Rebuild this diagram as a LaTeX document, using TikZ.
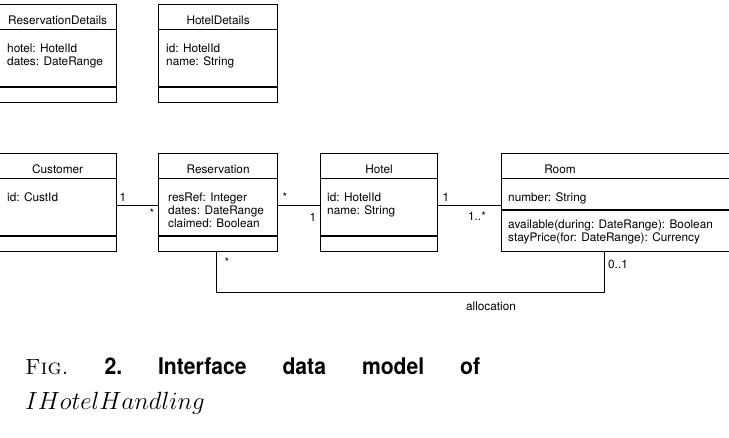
\documentclass[tikz,border=0pt]{standalone}
\usepackage{amsmath}
\usepackage{fontspec}
\newfontfamily\umlfont{TeX Gyre Heros}
\usepackage{tikz}

\begin{document}
\begin{tikzpicture}[x=1pt,y=-1pt,
		cls/.style={draw,line width=1.2pt,anchor=north west,minimum height=98pt,inner sep=0pt},
		ttl/.style={font=\umlfont\fontsize{11.8}{13}\selectfont,inner sep=0pt,anchor=base},
		txt/.style={font=\umlfont\fontsize{11.8}{13}\selectfont,inner sep=0pt,anchor=base west,align=left},
		mult/.style={font=\umlfont\fontsize{11.8}{13}\selectfont,inner sep=0pt,anchor=base},
		lnk/.style={line width=1.2pt}]
			\useasboundingbox (0,0) rectangle (729,438);

			\node [cls,minimum width=118pt] (resdet) at (-2,4) {};
			\node [cls,minimum width=119pt] (hoteldet) at (158,4) {};
			\node [cls,minimum width=118pt] (cust) at (-2,153) {};
			\node [cls,minimum width=119pt] (res) at (158,153) {};
			\node [cls,minimum width=117pt] (hotel) at (320,153) {};
			\node [cls,minimum width=232pt] (room) at (501,153) {};

			\foreach \b in {resdet,hoteldet,cust,res,hotel}
				\draw [lnk] ([yshift=-25.5pt]\b.north west) -- ([yshift=-25.5pt]\b.north east)
					([yshift=-83pt]\b.north west) -- ([yshift=-83pt]\b.north east);
			\draw [lnk] ([yshift=-25.5pt]room.north west) -- ([yshift=-25.5pt]room.north east)
				([yshift=-57pt]room.north west) -- ([yshift=-57pt]room.north east);

			\node [ttl] (resdetT) at ([yshift=-21pt]resdet.north) {ReservationDetails};
			\node [ttl] (hoteldetT) at ([yshift=-21pt]hoteldet.north) {HotelDetails};
			\node [ttl] (custT) at ([yshift=-21pt]cust.north) {Customer};
			\node [ttl] (resT) at ([yshift=-21pt]res.north) {Reservation};
			\node [ttl] (hotelT) at ([yshift=-21pt]hotel.north) {Hotel};
			\node [ttl] (roomT) at (560,174) {Room};

			\node [txt] (resdetA) at (7,66) {hotel: HotelId\\dates: DateRange};
			\node [txt] (hoteldetA) at (166,66) {id: HotelId\\name: String};
			\node [txt] (custA) at (7,202) {id: CustId};
			\node [txt] (resA) at (168,228) {resRef: Integer\\dates: DateRange\\claimed: Boolean};
			\node [txt] (hotelA) at (327,215) {id: HotelId\\name: String};
			\node [txt] (roomA) at (508,202) {number: String};
			\node [txt] (roomO) at (508,241.5) {available(during: DateRange): Boolean\\stayPrice(for: DateRange): Currency};

			\draw [lnk] ([yshift=-3pt]cust.east) -- ([yshift=-3pt]res.west);
			\draw [lnk] ([yshift=-3pt]res.east) -- ([yshift=-3pt]hotel.west);
			\draw [lnk] ([yshift=-3pt]hotel.east) -- ([yshift=-3pt]room.west);
			\draw [lnk] ([xshift=-1.5pt]res.south) -- ++(0,40) -| ([xshift=-13pt]room.south);

			\node [mult] (m1) at (123,201.7) {1};
			\node [mult,anchor=center] (m2) at (152,213) {*};
			\node [mult,anchor=center] (m3) at (285,197) {*};
			\node [mult] (m4) at (313,221.5) {1};
			\node [mult] (m5) at (446,201.7) {1};
			\node [mult] (m6) at (477,221) {1..*};
			\node [mult,anchor=center] (m7) at (227,262) {*};
			\node [mult] (m8) at (618,269) {0..1};
			\node [mult] (alloc) at (491,311) {allocation};

			\node [anchor=base west,inner sep=0pt] (capA) at (25,375)
				{\hbox to 455pt{\fontsize{22}{26}\selectfont\textsc{Fig.}\hfill
				\umlfont\bfseries\fontsize{23}{26}\selectfont
				\scalebox{0.92}[1]{2.}\hfill\scalebox{0.92}[1]{Interface}\hfill
				\scalebox{0.92}[1]{data}\hfill\scalebox{0.92}[1]{model}\hfill\scalebox{0.92}[1]{of}}};
			\node [anchor=base west,inner sep=0pt] (capB) at (25,410)
				{\fontsize{23}{26}\selectfont$IHotelHandling$};
\end{tikzpicture}
\end{document}
